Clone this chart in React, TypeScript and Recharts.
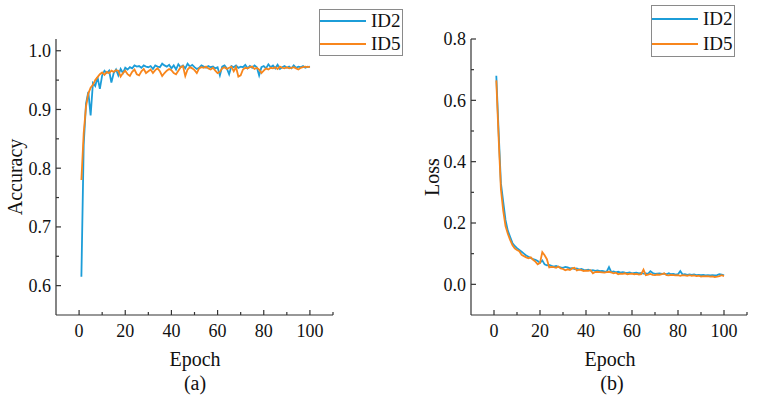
import React from "react";
import { LineChart, Line, XAxis, YAxis, Legend } from "recharts";

const epochs = Array.from({ length: 100 }, (_, i) => i + 1);

const accId2 = [
  0.615, 0.84, 0.91, 0.93, 0.89, 0.945, 0.94, 0.955, 0.935, 0.958,
  0.966, 0.962, 0.966, 0.946, 0.962, 0.968, 0.958, 0.969, 0.962, 0.971,
  0.968, 0.972, 0.97, 0.975, 0.973, 0.974, 0.971, 0.975, 0.973, 0.972,
  0.974, 0.969, 0.975, 0.973, 0.972, 0.978, 0.975, 0.973, 0.976, 0.97,
  0.975, 0.968, 0.977, 0.972, 0.975, 0.97, 0.978, 0.973, 0.976, 0.972,
  0.969, 0.971, 0.975, 0.973, 0.971, 0.974, 0.972, 0.973, 0.97, 0.972,
  0.958, 0.973, 0.975, 0.97, 0.96, 0.974, 0.972, 0.975, 0.971, 0.973,
  0.972, 0.976, 0.97, 0.974, 0.971, 0.975, 0.972, 0.958, 0.972, 0.974,
  0.97, 0.977, 0.972, 0.975, 0.97, 0.976, 0.969, 0.972, 0.974, 0.971,
  0.973, 0.97, 0.975, 0.971, 0.973, 0.972, 0.974, 0.971, 0.973, 0.972,
];

const accId5 = [
  0.78, 0.86, 0.905, 0.927, 0.937, 0.942, 0.95, 0.955, 0.96, 0.963,
  0.959, 0.964, 0.962, 0.966, 0.964, 0.967, 0.966, 0.956, 0.962, 0.966,
  0.96, 0.957, 0.964, 0.968, 0.96, 0.958, 0.965, 0.969, 0.962, 0.965,
  0.968, 0.962, 0.967, 0.97, 0.965, 0.957, 0.962, 0.966, 0.969, 0.967,
  0.962, 0.96, 0.966, 0.972, 0.974, 0.957, 0.968, 0.972, 0.97, 0.967,
  0.962, 0.97, 0.972, 0.971, 0.973, 0.97, 0.968, 0.971, 0.966, 0.962,
  0.964, 0.97, 0.972, 0.969, 0.971, 0.973, 0.965, 0.972, 0.956, 0.958,
  0.968, 0.971, 0.97, 0.972, 0.973, 0.969, 0.971, 0.968, 0.962, 0.966,
  0.97, 0.968, 0.971, 0.97, 0.972, 0.969, 0.973, 0.971, 0.97, 0.972,
  0.97, 0.971, 0.972, 0.97, 0.968, 0.971, 0.972, 0.973, 0.972, 0.973,
];

const lossId2 = [
  0.68, 0.5, 0.33, 0.27, 0.21, 0.175, 0.155, 0.135, 0.125, 0.118,
  0.112, 0.106, 0.1, 0.094, 0.09, 0.086, 0.082, 0.08, 0.076, 0.07,
  0.078, 0.065, 0.062, 0.063, 0.06, 0.058, 0.06, 0.057, 0.055, 0.054,
  0.057, 0.055, 0.052, 0.053, 0.05, 0.052, 0.048, 0.05, 0.047, 0.046,
  0.048, 0.045, 0.046, 0.044, 0.045, 0.043, 0.044, 0.042, 0.041, 0.056,
  0.04, 0.042, 0.039, 0.041, 0.038, 0.04, 0.038, 0.037, 0.039, 0.036,
  0.037, 0.038, 0.036, 0.037, 0.035, 0.036, 0.034, 0.043, 0.037, 0.034,
  0.035, 0.036, 0.034, 0.035, 0.033, 0.036, 0.033, 0.034, 0.032, 0.033,
  0.043, 0.032, 0.033, 0.031, 0.032, 0.031, 0.032, 0.03, 0.031, 0.03,
  0.031, 0.029, 0.03, 0.029, 0.03, 0.029, 0.03, 0.033, 0.032, 0.029,
];

const lossId5 = [
  0.665, 0.48, 0.31, 0.24, 0.19, 0.165, 0.145, 0.128, 0.117, 0.112,
  0.108, 0.096, 0.092, 0.088, 0.085, 0.088, 0.08, 0.074, 0.065, 0.07,
  0.105, 0.095, 0.082, 0.055, 0.057, 0.056, 0.054, 0.058, 0.052, 0.05,
  0.046, 0.049, 0.047, 0.052, 0.054, 0.045, 0.048, 0.046, 0.043, 0.045,
  0.044, 0.046, 0.036, 0.04, 0.041, 0.04, 0.039, 0.038, 0.04, 0.041,
  0.039, 0.036, 0.038, 0.033, 0.035, 0.034, 0.036, 0.033, 0.034, 0.035,
  0.033, 0.034, 0.032, 0.033, 0.048, 0.03, 0.032, 0.034, 0.031, 0.03,
  0.032, 0.031, 0.033, 0.036, 0.03, 0.029, 0.031, 0.03, 0.029, 0.03,
  0.028, 0.03, 0.029, 0.028, 0.03, 0.028, 0.029, 0.027, 0.028, 0.025,
  0.027, 0.026, 0.027, 0.025, 0.026, 0.024, 0.025, 0.027, 0.03, 0.027,
];

// major ticks get labels, minor ones only a short tick line (ticks point inward)
const xMajor = [0, 20, 40, 60, 80, 100];
const xMinor = [10, 30, 50, 70, 90, 110];
const accMajor = [0.6, 0.7, 0.8, 0.9, 1.0];
const accMinor = [0.65, 0.75, 0.85, 0.95];
const lossMajor = [0, 0.2, 0.4, 0.6, 0.8];
const lossMinor = [0.1, 0.3, 0.5, 0.7];

const accData = epochs.map((e, i) => ({ epoch: e, ID2: accId2[i], ID5: accId5[i] }));
const lossData = epochs.map((e, i) => ({ epoch: e, ID2: lossId2[i], ID5: lossId5[i] }));

const FONT = "'Liberation Serif', 'Times New Roman', serif";
const BLUE = "#1c9dd8";
const ORANGE = "#f8861c";
const AXIS = "#333";
const X_GAP = 9;
const Y_GAP = 5;

const isMajor = (v: number, major: number[]) => major.some((m) => Math.abs(m - v) < 1e-9);

const XTick = (props: any) => {
  const { x, y, payload } = props;
  const axisY = y - X_GAP;
  const major = isMajor(payload.value, xMajor);
  return (
    <g>
      <line x1={x} x2={x} y1={axisY} y2={axisY - (major ? 5 : 3)} stroke={AXIS} strokeWidth={1.2} />
      {major && (
        <text x={x} y={y} dy="0.71em" textAnchor="middle" fill="#111" style={{ fontFamily: FONT, fontSize: 18 }}>
          {payload.value}
        </text>
      )}
    </g>
  );
};

const makeYTick = (major: number[]) => (props: any) => {
  const { x, y, payload } = props;
  const axisX = x + Y_GAP;
  const isM = isMajor(payload.value, major);
  return (
    <g>
      <line x1={axisX} x2={axisX + (isM ? 5 : 3)} y1={y} y2={y} stroke={AXIS} strokeWidth={1.2} />
      {isM && (
        <text x={x} y={y} dy="0.355em" textAnchor="end" fill="#111" style={{ fontFamily: FONT, fontSize: 18 }}>
          {payload.value.toFixed(1)}
        </text>
      )}
    </g>
  );
};

const LegendBox = ({ h }: { h: number }) => (
  <div
    style={{
      width: 84,
      height: h,
      border: "1px solid #8a8a8a",
      background: "#fff",
      boxSizing: "border-box",
      fontFamily: FONT,
      fontSize: 19,
      color: "#111",
      display: "flex",
      flexDirection: "column",
      justifyContent: "space-around",
    }}
  >
    {[
      { name: "ID2", color: BLUE },
      { name: "ID5", color: ORANGE },
    ].map((s) => (
      <div key={s.name} style={{ display: "flex", alignItems: "center", lineHeight: "20px" }}>
        <div style={{ width: 46, height: 2, background: s.color, marginRight: 5 }} />
        <span>{s.name}</span>
      </div>
    ))}
  </div>
);

interface PanelProps {
  data: { epoch: number; ID2: number; ID5: number }[];
  left: number;
  width: number;
  margin: { top: number; right: number; bottom: number; left: number };
  yDomain: [number, number];
  yMajor: number[];
  yMinor: number[];
  legendLeft: number;
  legendTop: number;
  legendH: number;
}

const Panel = (p: PanelProps) => (
  <div style={{ position: "absolute", left: p.left, top: 0 }}>
    <LineChart width={p.width} height={401} data={p.data} margin={p.margin}>
      <XAxis
        dataKey="epoch"
        type="number"
        domain={[-10, 110]}
        ticks={[...xMajor, ...xMinor].sort((a, b) => a - b)}
        interval={0}
        height={30}
        tickSize={0}
        tickMargin={X_GAP}
        tickLine={false}
        stroke={AXIS}
        strokeWidth={1.2}
        tick={<XTick />}
      />
      <YAxis
        type="number"
        domain={p.yDomain}
        ticks={[...p.yMajor, ...p.yMinor].sort((a, b) => a - b)}
        interval={0}
        allowDataOverflow
        width={40}
        tickSize={0}
        tickMargin={Y_GAP}
        tickLine={false}
        stroke={AXIS}
        strokeWidth={1.2}
        tick={makeYTick(p.yMajor)}
      />
      <Legend
        layout="horizontal"
        verticalAlign="middle"
        align="center"
        wrapperStyle={{ left: p.legendLeft, top: p.legendTop, width: 84 }}
        content={() => <LegendBox h={p.legendH} />}
      />
      <Line type="linear" dataKey="ID2" stroke={BLUE} strokeWidth={1.8} dot={false} isAnimationActive={false} />
      <Line type="linear" dataKey="ID5" stroke={ORANGE} strokeWidth={1.8} dot={false} isAnimationActive={false} />
    </LineChart>
  </div>
);

const Text = ({ x, y, children, rotate }: { x: number; y: number; children: React.ReactNode; rotate?: boolean }) => (
  <div
    style={{
      position: "absolute",
      left: x,
      top: y,
      transform: `translate(-50%, -50%)${rotate ? " rotate(-90deg)" : ""}`,
      fontFamily: FONT,
      fontSize: 20,
      color: "#111",
      whiteSpace: "nowrap",
    }}
  >
    {children}
  </div>
);

export default function App() {
  return (
    <div style={{ position: "absolute", left: 0, top: 0, width: 757, height: 401, background: "#fff", overflow: "hidden" }}>
      <Panel
        data={accData}
        left={0}
        width={380}
        margin={{ top: 39, right: 47, bottom: 56, left: 16 }}
        yDomain={[0.55, 1.02]}
        yMajor={accMajor}
        yMinor={accMinor}
        legendLeft={319}
        legendTop={9}
        legendH={47}
      />
      <Panel
        data={lossData}
        left={380}
        width={377}
        margin={{ top: 39, right: 10, bottom: 56, left: 51 }}
        yDomain={[-0.1, 0.8]}
        yMajor={lossMajor}
        yMinor={lossMinor}
        legendLeft={271}
        legendTop={5}
        legendH={52}
      />
      <Text x={15} y={177} rotate>Accuracy</Text>
      <Text x={195} y={359}>Epoch</Text>
      <Text x={195} y={383}>(a)</Text>
      <Text x={432} y={177} rotate>Loss</Text>
      <Text x={610} y={359}>Epoch</Text>
      <Text x={612} y={383}>(b)</Text>
    </div>
  );
}
